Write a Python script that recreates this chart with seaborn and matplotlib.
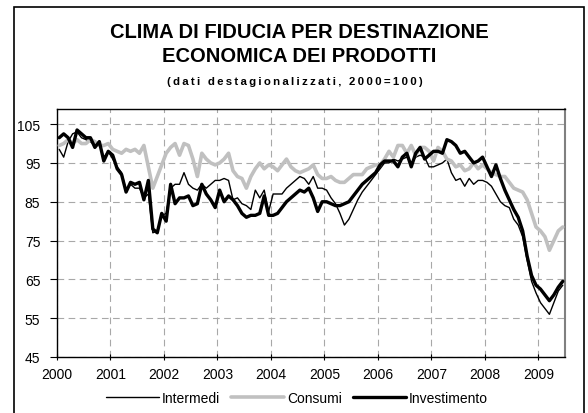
import numpy as np
import pandas as pd
import matplotlib
matplotlib.use("Agg")
import matplotlib.pyplot as plt
from matplotlib.patches import Rectangle
import seaborn as sns

# monthly data, Jan 2000 - Jun 2009 (2000=100, seasonally adjusted)
start_year = 2000
year_ticks = list(range(2000, 2010))
y_ticks = [45, 55, 65, 75, 85, 95, 105]

intermedi = [
    98.5, 96.5, 100.5, 102.5, 103, 101.5, 101, 100.5, 99.5, 100, 96.5, 98,
    96, 94, 92.5, 88, 89.5, 88.5, 88.5, 86, 87, 77, 77.5, 81.5,
    82, 88.5, 89.5, 89.5, 92.5, 89.5, 88.5, 88, 89.5, 88.5, 89.5, 90.5,
    90.5, 91, 90.5, 85.5, 86, 84.5, 84, 83, 88, 86, 88, 82.5,
    87, 87, 87, 88.5, 89.5, 90.5, 91.5, 91, 89.5, 91.5, 88.5, 88.5,
    88, 86, 84.5, 82, 79, 80.5, 83, 85.5, 87.5, 89, 90.5, 92,
    93.5, 95, 95, 96, 95.5, 96, 96.5, 95, 96.5, 97, 96.5, 94,
    94, 94.5, 95, 96, 92.5, 90.5, 91, 89, 91, 89.5, 90.5, 90.5,
    90, 89, 87, 85, 84, 83.5, 80.5, 79, 76, 70, 64.5, 61.5,
    59, 57.5, 56, 59, 62, 63.5,
]

consumi = [
    99.5, 100, 101, 100, 101, 100, 100, 101, 100.5, 99.5, 99.5, 100,
    98.5, 98, 97.5, 98.5, 98, 98.5, 97.5, 99.5, 94, 88.5, 91.5, 94.5,
    97.5, 99, 100, 97, 100, 99.5, 96, 91.5, 97.5, 96, 95, 94.5,
    95, 96, 97.5, 93, 91.5, 91, 88.5, 91.5, 93.5, 95, 93.5, 94.5,
    94, 93, 94.5, 96, 94, 93, 92.5, 93, 93.5, 94.5, 92, 91,
    91, 91.5, 90.5, 90, 90, 91, 92, 92, 92, 93.5, 94, 94.5,
    94.5, 96, 98, 96.5, 99.5, 99.5, 97.5, 99.5, 97, 99, 99, 98,
    95.5, 99, 98, 96, 95.5, 94, 94.5, 93, 93.5, 95, 93.5, 94.5,
    93.5, 92.5, 92, 91.5, 91.5, 90, 88.5, 88, 87.5, 85.5, 82, 78.5,
    77.5, 76, 72.5, 75, 77.5, 78.5,
]

investimento = [
    101.5, 102.5, 101.5, 99, 103.5, 102.5, 101.5, 101.5, 99, 100.5, 95.5, 98,
    97, 93.5, 92, 87.5, 90, 89.5, 90, 85.5, 90.5, 78, 77, 82,
    80, 89.5, 84.5, 86, 86, 86.5, 84, 84.5, 89.5, 87, 85.5, 83.5,
    88, 85, 86.5, 85.5, 84, 82, 81, 81.5, 81.5, 82, 86.5, 81.5,
    81.5, 82, 83.5, 85, 86, 87, 88, 87.5, 88.5, 86, 82.5, 85,
    85, 84.5, 84, 84, 84.5, 85, 86.5, 88, 89.5, 90.5, 91.5, 92.5,
    94.5, 95.5, 95.5, 95.5, 94, 96.5, 97.5, 94, 97.5, 99, 96, 97,
    98, 98, 97.5, 101, 100.5, 99.5, 97.5, 98, 96.5, 95, 95.5, 96.5,
    94, 91.5, 94.5, 91, 88, 85.5, 83, 81, 77.5, 71, 66, 63.5,
    62.5, 61, 59.5, 61, 63, 64.5,
]

series = {"Intermedi": intermedi, "Consumi": consumi, "Investimento": investimento}
colors = {"Intermedi": "black", "Consumi": "#c0c0c0", "Investimento": "black"}
widths = {"Intermedi": 1.0, "Consumi": 2.6, "Investimento": 2.4}

n = len(investimento)
t = start_year + (np.arange(n) + 0.5) / 12
df = pd.DataFrame({"t": t, **series}).melt(id_vars="t", var_name="serie", value_name="valore")

sns.set_style("white")
plt.rcParams['font.family'] = ['Liberation Sans', 'DejaVu Sans']
plt.rcParams['text.color'] = 'black'

W, H = 588, 414
fig = plt.figure(figsize=(W / 100, H / 100), dpi=100)
ax = fig.add_axes([57 / W, 1 - 358 / H, 508 / W, 248 / H])

for name in series:
    sns.lineplot(data=df[df.serie == name], x="t", y="valore", ax=ax,
                 color=colors[name], lw=widths[name], label=name, zorder=3)

ax.set_xlim(2000, 2009.5)
ax.set_ylim(45, 108.9)
ax.set_xticks(year_ticks)
ax.set_xticklabels([str(y) for y in year_ticks], fontsize=10)
ax.set_yticks(y_ticks)
ax.set_yticklabels([str(v) for v in y_ticks], fontsize=10)
ax.set_xlabel("")
ax.set_ylabel("")
ax.set_axisbelow(True)
ax.xaxis.grid(True, color="#a8a8a8", linestyle=(0, (6, 4)), linewidth=0.8)
ax.yaxis.grid(True, color="#a8a8a8", linestyle=(0, (6, 4)), linewidth=0.8)
ax.tick_params(axis="y", direction="out", length=5, width=0.8, pad=7, colors="black", left=True)
ax.tick_params(axis="x", direction="inout", length=5, width=0.8, pad=5, colors="black", bottom=True)

for side in ["left", "bottom", "top"]:
    ax.spines[side].set_color("black")
    ax.spines[side].set_linewidth(1.0)
ax.spines["right"].set_color("#808080")
ax.spines["right"].set_linewidth(1.5)

leg = ax.legend(loc="center", bbox_to_anchor=(297 / W, 1 - 399 / H), bbox_transform=fig.transFigure,
                ncol=3, frameon=False, fontsize=10, handlelength=3.8, handletextpad=0.2,
                columnspacing=0.8)
for txt in leg.get_texts():
    txt.set_color("black")

fig.text(299 / W, 1 - 32 / H, "CLIMA DI FIDUCIA PER DESTINAZIONE", ha="center", va="center",
         fontsize=14.5, fontweight="bold", color="black")
fig.text(299 / W, 1 - 57 / H, "ECONOMICA DEI PRODOTTI", ha="center", va="center",
         fontsize=14.5, fontweight="bold", color="black")
sub = "\u2009".join("(dati destagionalizzati, 2000=100)")
fig.text(295 / W, 1 - 82 / H, sub, ha="center", va="center", fontsize=8.2, fontweight="bold",
         color="black")

fig.add_artist(Rectangle((14 / W, -0.01), 570 / W, 1 - 8 / H + 0.01, transform=fig.transFigure,
                         fill=False, edgecolor="black", lw=1.2, clip_on=False))

fig.savefig("out.png", dpi=100)
